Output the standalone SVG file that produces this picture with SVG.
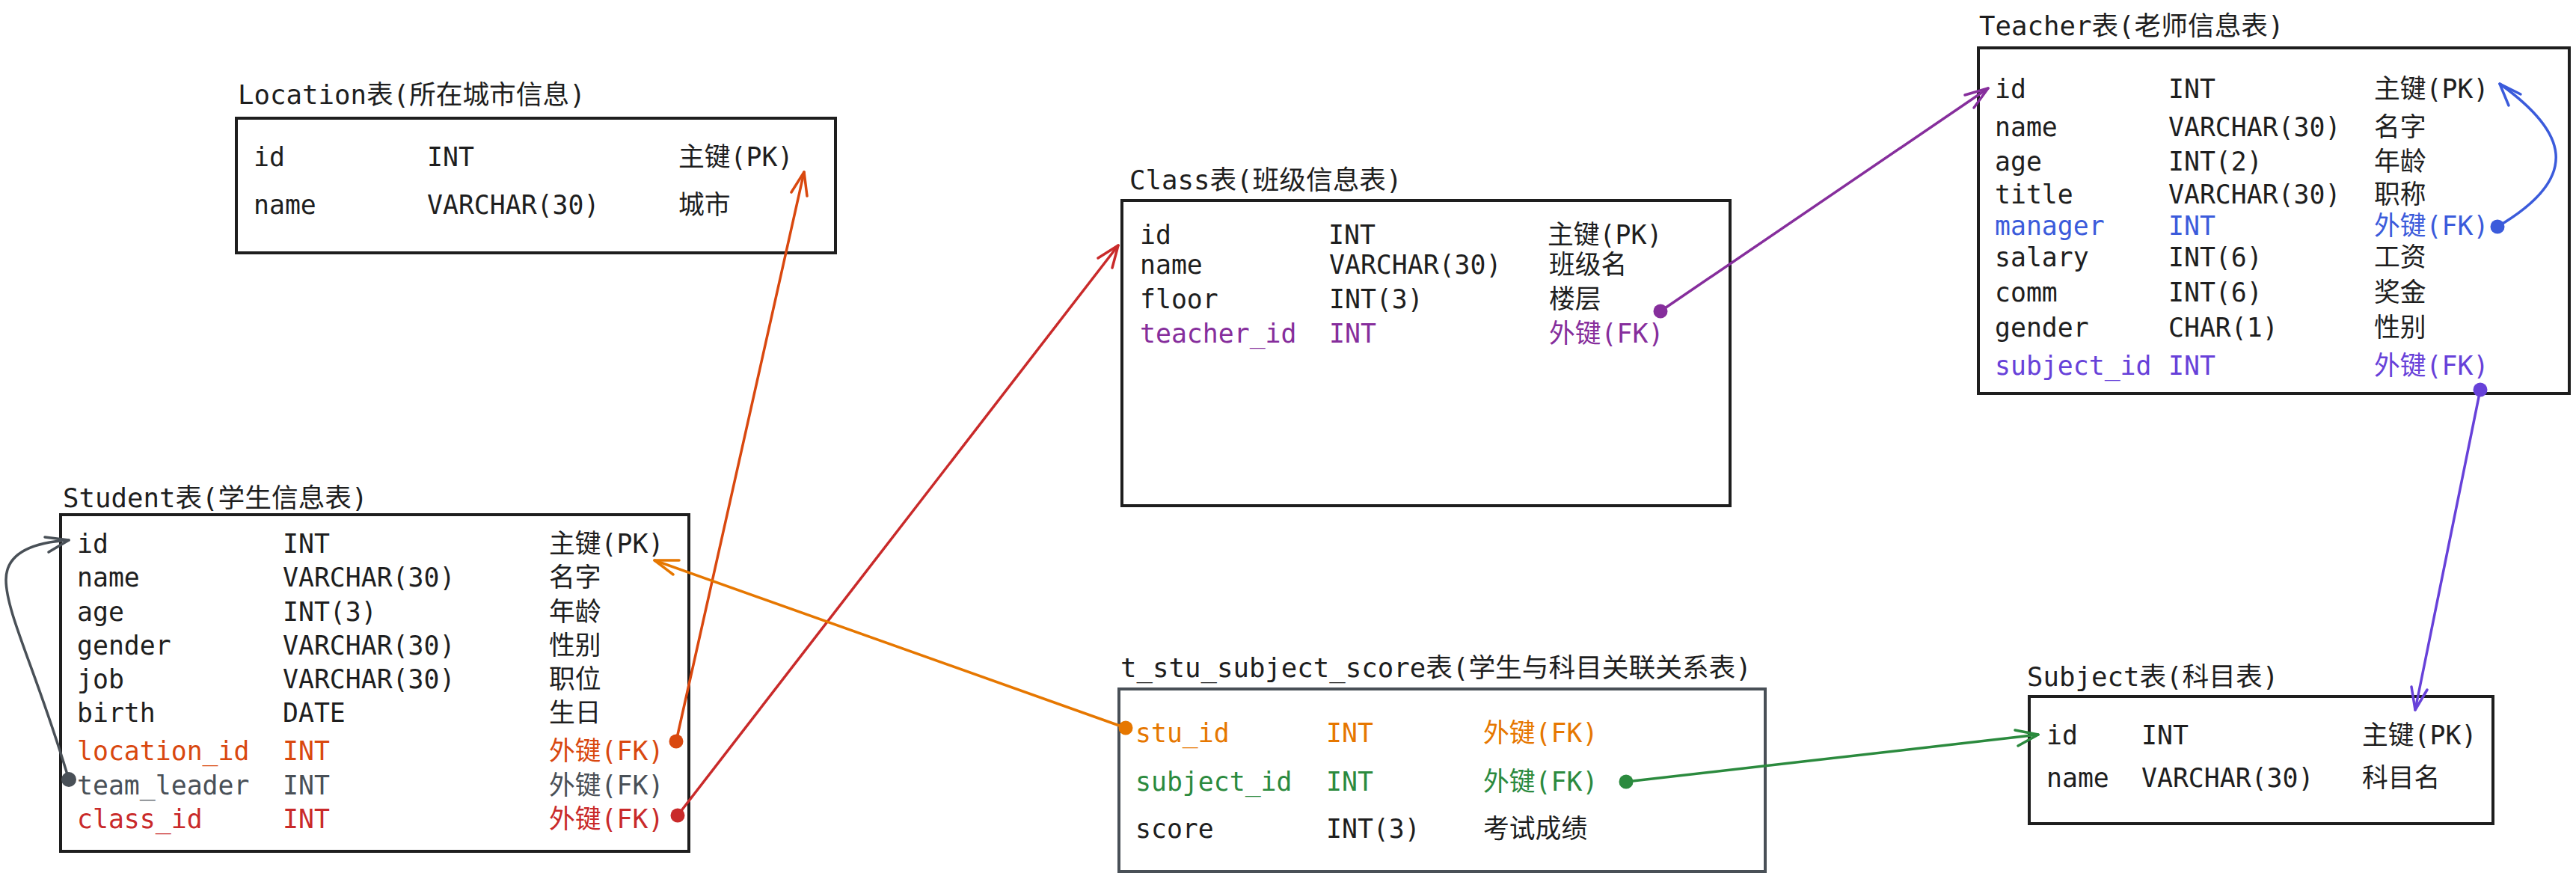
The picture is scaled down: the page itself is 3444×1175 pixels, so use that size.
<svg xmlns="http://www.w3.org/2000/svg" width="3444" height="1175" viewBox="0 0 3444 1175">
<style>
text{font-family:"DejaVu Sans Mono","Noto Sans CJK SC",monospace;font-size:34.8px;fill:#1e1e1e}
text.title{font-size:35.7px}
.box{fill:#ffffff;stroke:#1e1e1e;stroke-width:4}
.box.gray{stroke:#495057}
.ln{fill:none;stroke-width:3.5;stroke-linecap:round;stroke-linejoin:round}
.red{fill:#c92a2a}.ored{fill:#d9480f}.gry{fill:#495057}.org{fill:#e67700}.grp{fill:#862e9c}.blu{fill:#3b5bdb}.vio{fill:#6741d9}.grn{fill:#2b8a3e}
</style>
<rect width="3444" height="1175" fill="#ffffff"/>
<g id="location">
<text class="title" x="318" y="139">Location表(所在城市信息)</text>
<rect class="box" x="316" y="158" width="801" height="180"/>
<text x="339" y="222">id</text><text x="571" y="222">INT</text><text x="907" y="222">主键(PK)</text>
<text x="339" y="286">name</text><text x="571" y="286">VARCHAR(30)</text><text x="907" y="286">城市</text>
</g>
<g id="student">
<text class="title" x="84" y="678">Student表(学生信息表)</text>
<rect class="box" x="81" y="688" width="840" height="450"/>
<text x="103" y="739">id</text><text x="378" y="739">INT</text><text x="734" y="739">主键(PK)</text>
<text x="103" y="784">name</text><text x="378" y="784">VARCHAR(30)</text><text x="734" y="784">名字</text>
<text x="103" y="830">age</text><text x="378" y="830">INT(3)</text><text x="734" y="830">年龄</text>
<text x="103" y="875">gender</text><text x="378" y="875">VARCHAR(30)</text><text x="734" y="875">性别</text>
<text x="103" y="920">job</text><text x="378" y="920">VARCHAR(30)</text><text x="734" y="920">职位</text>
<text x="103" y="965">birth</text><text x="378" y="965">DATE</text><text x="734" y="965">生日</text>
<text class="ored" x="103" y="1016">location_id</text><text class="ored" x="378" y="1016">INT</text><text class="ored" x="734" y="1016">外键(FK)</text>
<text class="gry" x="103" y="1062">team_leader</text><text class="gry" x="378" y="1062">INT</text><text class="gry" x="734" y="1062">外键(FK)</text>
<text class="red" x="103" y="1107">class_id</text><text class="red" x="378" y="1107">INT</text><text class="red" x="734" y="1107">外键(FK)</text>
</g>
<g id="class">
<text class="title" x="1510" y="253">Class表(班级信息表)</text>
<rect class="box" x="1500" y="268" width="813" height="408"/>
<text x="1524" y="326">id</text><text x="1776" y="326">INT</text><text x="2069" y="326">主键(PK)</text>
<text x="1524" y="366">name</text><text x="1777" y="366">VARCHAR(30)</text><text x="2071" y="366">班级名</text>
<text x="1524" y="412">floor</text><text x="1777" y="412">INT(3)</text><text x="2071" y="412">楼层</text>
<text class="grp" x="1524" y="458">teacher_id</text><text class="grp" x="1777" y="458">INT</text><text class="grp" x="2071" y="458">外键(FK)</text>
</g>
<g id="teacher">
<text class="title" x="2646" y="47">Teacher表(老师信息表)</text>
<rect class="box" x="2645" y="64" width="790" height="462"/>
<text x="2667" y="131">id</text><text x="2899" y="131">INT</text><text x="3174" y="131">主键(PK)</text>
<text x="2667" y="182">name</text><text x="2899" y="182">VARCHAR(30)</text><text x="3174" y="182">名字</text>
<text x="2667" y="228">age</text><text x="2899" y="228">INT(2)</text><text x="3174" y="228">年龄</text>
<text x="2667" y="272">title</text><text x="2899" y="272">VARCHAR(30)</text><text x="3174" y="272">职称</text>
<text class="blu" x="2667" y="314">manager</text><text class="blu" x="2899" y="314">INT</text><text class="blu" x="3174" y="314">外键(FK)</text>
<text x="2667" y="356">salary</text><text x="2899" y="356">INT(6)</text><text x="3174" y="356">工资</text>
<text x="2667" y="403">comm</text><text x="2899" y="403">INT(6)</text><text x="3174" y="403">奖金</text>
<text x="2667" y="450">gender</text><text x="2899" y="450">CHAR(1)</text><text x="3174" y="450">性别</text>
<text class="vio" x="2667" y="501">subject_id</text><text class="vio" x="2899" y="501">INT</text><text class="vio" x="3174" y="501">外键(FK)</text>
</g>
<g id="t_stu_subject_score">
<text class="title" x="1498" y="905">t_stu_subject_score表(学生与科目关联关系表)</text>
<rect class="box gray" x="1496" y="921" width="864" height="244"/>
<text class="org" x="1518" y="992">stu_id</text><text class="org" x="1773" y="992">INT</text><text class="org" x="1983" y="992">外键(FK)</text>
<text class="grn" x="1518" y="1057">subject_id</text><text class="grn" x="1773" y="1057">INT</text><text class="grn" x="1983" y="1057">外键(FK)</text>
<text x="1518" y="1120">score</text><text x="1773" y="1120">INT(3)</text><text x="1983" y="1120">考试成绩</text>
</g>
<g id="subject">
<text class="title" x="2710" y="917">Subject表(科目表)</text>
<rect class="box" x="2713" y="931" width="620" height="170"/>
<text x="2736" y="995">id</text><text x="2863" y="995">INT</text><text x="3158" y="995">主键(PK)</text>
<text x="2736" y="1052">name</text><text x="2863" y="1052">VARCHAR(30)</text><text x="3158" y="1052">科目名</text>
</g>
<g id="connectors">
<g stroke="#d9480f" fill="#d9480f">
<path class="ln" d="M904,991 L1075,230"/>
<polyline class="ln" points="1058,257 1075,230 1079,262"/>
<circle cx="904" cy="991" r="9.5" stroke="none"/>
</g>
<g stroke="#c92a2a" fill="#c92a2a">
<path class="ln" d="M906,1090 L1495,328"/>
<polyline class="ln" points="1468,345 1495,328 1487,358"/>
<circle cx="906" cy="1090" r="9.5" stroke="none"/>
</g>
<g stroke="#495057" fill="#495057">
<path class="ln" d="M92,1042 C50,900 8,820 8,775 C8,738 45,725 92,722"/>
<polyline class="ln" points="60,718 92,722 65,738"/>
<circle cx="92" cy="1042" r="10" stroke="none"/>
</g>
<g stroke="#e67700" fill="#e67700">
<path class="ln" d="M1505,973 L875,749"/>
<polyline class="ln" points="908,749 875,749 900,768"/>
<circle cx="1505" cy="973" r="9.5" stroke="none"/>
</g>
<g stroke="#862e9c" fill="#862e9c">
<path class="ln" d="M2220,416 L2658,118"/>
<polyline class="ln" points="2627,127 2658,118 2639,144"/>
<circle cx="2220" cy="416" r="9.5" stroke="none"/>
</g>
<g stroke="#3b5bdb" fill="#3b5bdb">
<path class="ln" d="M3339,303 C3455,235 3430,175 3342,112"/>
<polyline class="ln" points="3370,126 3342,112 3354,141"/>
<circle cx="3339" cy="303" r="9.5" stroke="none"/>
</g>
<g stroke="#6741d9" fill="#6741d9">
<path class="ln" d="M3316,521 L3229,949"/>
<polyline class="ln" points="3224,918 3229,949 3245,922"/>
<circle cx="3316" cy="521" r="9.5" stroke="none"/>
</g>
<g stroke="#2b8a3e" fill="#2b8a3e">
<path class="ln" d="M2174,1045 L2725,982"/>
<polyline class="ln" points="2694,976 2725,982 2698,997"/>
<circle cx="2174" cy="1045" r="9.5" stroke="none"/>
</g>
</g>
</svg>
